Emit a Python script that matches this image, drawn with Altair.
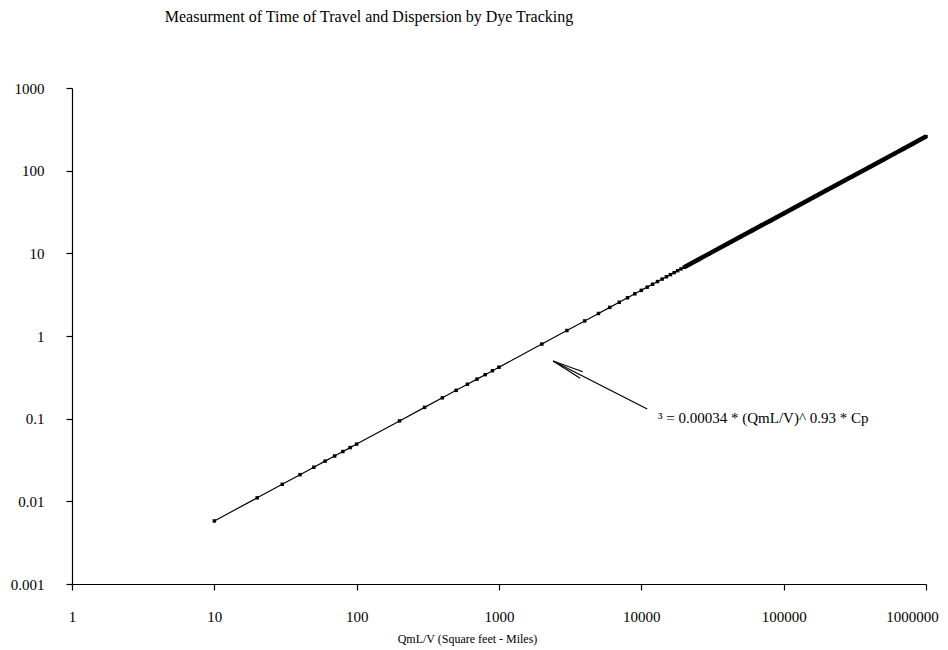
import altair as alt
import pandas as pd

# Data
qml_v = [10, 20, 30, 40, 50, 60, 70, 80, 90, 100,
         200, 300, 400, 500, 600, 700, 800, 900, 1000,
         2000, 3000, 4000, 5000, 6000, 7000, 8000, 9000, 10000,
         11000, 12000, 13000, 14000, 15000, 16000, 17000, 18000, 19000, 20000,
         25000, 30000, 40000, 50000, 60000, 70000, 80000, 90000, 100000,
         200000, 300000, 400000, 500000, 600000, 700000, 800000, 900000, 1000000]
sigma = [0.00579, 0.01103, 0.01608, 0.02101, 0.02586, 0.03063, 0.03535, 0.04003, 0.04467, 0.04925,
         0.0939, 0.1369, 0.1788, 0.2201, 0.2607, 0.3009, 0.3407, 0.3802, 0.4192,
         0.799, 1.165, 1.522, 1.873, 2.219, 2.561, 2.900, 3.236, 3.568,
         3.899, 4.228, 4.555, 4.880, 5.203, 5.525, 5.846, 6.165, 6.483, 6.800,
         8.367, 9.915, 12.95, 15.94, 18.89, 21.80, 24.68, 27.54, 30.37,
         57.87, 84.39, 110.2, 135.7, 160.8, 185.5, 210.1, 234.4, 258.5]

x_ticks = [1, 10, 100, 1000, 10000, 100000, 1000000]
y_ticks = [0.001, 0.01, 0.1, 1, 10, 100, 1000]

# annotation arrow (data coordinates): shaft + two barbs
arrow_x = [11000, 3880, 3715]
arrow_y = [0.131, 0.370, 0.308]
arrow_tip_x = [2400, 2400, 2400]
arrow_tip_y = [0.498, 0.498, 0.498]

label_text = ["³ = 0.00034 * (QmL/V)^ 0.93 * Cp"]
label_x = [13100]
label_y = [0.102]

df = pd.DataFrame({"x": qml_v, "y": sigma})
arrow_df = pd.DataFrame({"x": arrow_x, "y": arrow_y, "x2": arrow_tip_x, "y2": arrow_tip_y})
label_df = pd.DataFrame({"x": label_x, "y": label_y, "t": label_text})

FONT = "Liberation Serif"

xscale = alt.Scale(type="log", domain=[1, 1000000])
yscale = alt.Scale(type="log", domain=[0.001, 1000])

xaxis = alt.Axis(values=x_ticks, format=".0f", grid=False, domainColor="black",
                 tickColor="black", tickSize=6, labelPadding=19, labelFont=FONT,
                 labelFontSize=15, labelColor="black", labelFlush=False,
                 labelOffset=alt.condition("datum.value == 1000000", alt.value(-14), alt.value(0)),
                 title="QmL/V (Square feet - Miles)", titleFont=FONT, titleFontSize=12,
                 titleFontWeight="normal", titleColor="black", titleX=395, titleY=54,
                 titleBaseline="middle", titleAlign="center")
yaxis = alt.Axis(values=y_ticks, format=".6~f", grid=False, domainColor="black",
                 tickColor="black", tickSize=6, labelPadding=22, labelFont=FONT,
                 labelFontSize=15, labelColor="black", labelFlush=False, title=None)

base = alt.Chart(df)

line = base.mark_line(color="black", strokeWidth=1.2).encode(
    x=alt.X("x:Q", scale=xscale, axis=xaxis),
    y=alt.Y("y:Q", scale=yscale, axis=yaxis),
)
band = base.transform_filter(alt.datum.x >= 20000).mark_line(
    color="black", strokeWidth=4.5).encode(x="x:Q", y="y:Q")
pts = base.mark_point(shape="square", filled=True, color="black", size=12, opacity=1).encode(
    x="x:Q", y="y:Q")

arrow = alt.Chart(arrow_df).mark_rule(color="black", strokeWidth=1.2).encode(
    x="x:Q", y="y:Q", x2="x2:Q", y2="y2:Q")

label = alt.Chart(label_df).mark_text(align="left", baseline="middle", font=FONT,
                                       fontSize=15, color="black").encode(
    x="x:Q", y="y:Q", text="t:N")

chart = alt.layer(line, band, pts, arrow, label).properties(
    width=854, height=496,
    title=alt.TitleParams("Measurment of Time of Travel and Dispersion by Dye Tracking",
                          font=FONT, fontSize=16, fontWeight="normal", color="black",
                          anchor="middle", frame="group", dx=-130, offset=56),
    padding={"left": 64, "top": 80, "right": 14, "bottom": 64},
    autosize=alt.AutoSizeParams(type="none"),
).configure_view(stroke=None).configure_axis(domainWidth=1.2, tickWidth=1.2)

chart.save("out.html", embed_options={"renderer": "svg", "actions": False})
